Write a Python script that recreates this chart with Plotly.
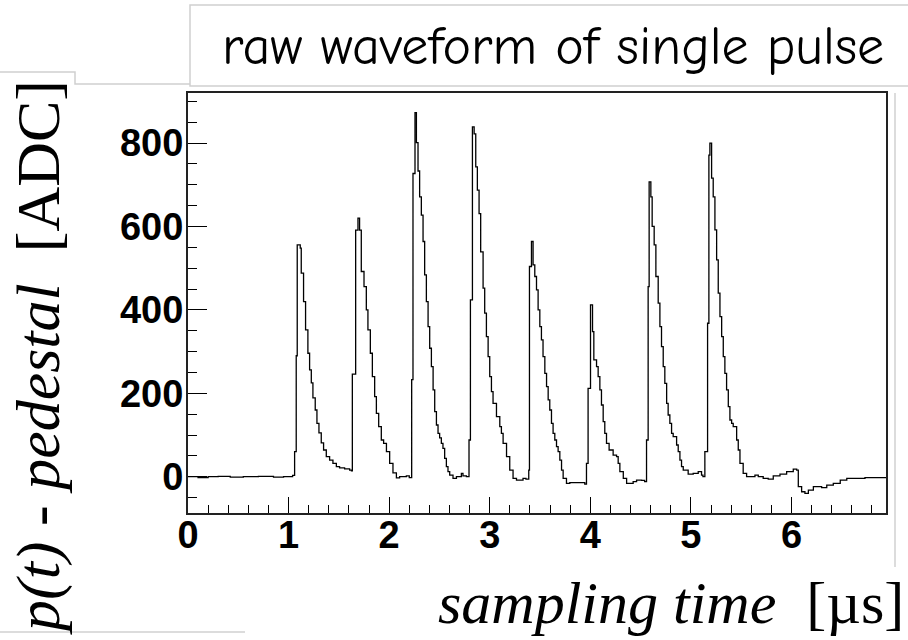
import plotly.graph_objects as go

# ---- data: waveform breakpoints (time in µs, amplitude in ADC counts), drawn as steps ----
base_t = [0.00, 0.10, 0.20, 0.30, 0.42, 0.55, 0.70, 0.85, 0.95, 1.04]
base_v = [0, -2, 0, 1, -1, 0, 1, -1, 0, 3]

p1_t = [1.060, 1.076, 1.086, 1.116, 1.126, 1.149, 1.169, 1.192, 1.209, 1.226, 1.242, 1.265,
        1.282, 1.302, 1.325, 1.348, 1.375, 1.408, 1.441, 1.475, 1.507, 1.557, 1.607, 1.625]
p1_v = [60, 290, 556, 548, 488, 420, 352, 296, 256, 225, 189, 160,
        128, 105, 81, 64, 48, 40, 32, 24, 21, 19, 16, 14]

p2_t = [1.634, 1.667, 1.690, 1.706, 1.723, 1.750, 1.773, 1.789, 1.813, 1.833, 1.856, 1.873,
        1.896, 1.922, 1.945, 1.973, 2.005, 2.038, 2.072, 2.104, 2.171, 2.200]
p2_v = [246, 591, 620, 591, 492, 456, 400, 352, 296, 240, 192, 152,
        120, 88, 80, 60, 32, 9, -3, 0, 2, -2]

p3_t = [2.224, 2.237, 2.257, 2.271, 2.287, 2.303, 2.320, 2.337, 2.353, 2.370, 2.387, 2.403,
        2.420, 2.437, 2.453, 2.470, 2.486, 2.502, 2.519, 2.535, 2.552, 2.569, 2.585, 2.602,
        2.635, 2.669, 2.718, 2.734, 2.768]
p3_v = [233, 727, 873, 801, 733, 671, 627, 564, 484, 420, 360, 308,
        264, 208, 156, 124, 104, 93, 80, 68, 44, 24, 12, 4,
        -4, 0, 8, 2, 0]

p4_t = [2.794, 2.808, 2.828, 2.845, 2.861, 2.877, 2.894, 2.910, 2.934, 2.950, 2.967, 2.984,
        3.000, 3.017, 3.033, 3.067, 3.100, 3.116, 3.133, 3.167, 3.199, 3.232, 3.266, 3.331, 3.360]
p4_v = [88, 424, 839, 822, 743, 687, 631, 539, 452, 392, 336, 288,
        240, 204, 176, 144, 120, 104, 80, 48, 16, -4, -8, -4, -6]

p5_t = [3.388, 3.395, 3.415, 3.431, 3.448, 3.465, 3.481, 3.498, 3.514, 3.530, 3.548, 3.565,
        3.581, 3.597, 3.614, 3.630, 3.647, 3.664, 3.680, 3.697, 3.714, 3.730, 3.763, 3.796,
        3.863, 3.945]
p5_v = [16, 504, 564, 508, 480, 448, 400, 360, 328, 288, 248, 216,
        184, 160, 128, 104, 88, 72, 60, 40, 16, -4, -16, -14,
        -14, -18]

p6_t = [3.962, 3.978, 4.002, 4.022, 4.035, 4.062, 4.078, 4.095, 4.111, 4.128, 4.144, 4.161,
        4.187, 4.227, 4.261, 4.277, 4.294, 4.328, 4.361, 4.426, 4.460, 4.510, 4.540]
p6_v = [32, 212, 412, 348, 280, 264, 240, 208, 172, 132, 104, 80,
        64, 52, 48, 32, 12, -4, -16, -12, -8, -9, -12]

p7_t = [4.559, 4.575, 4.585, 4.602, 4.615, 4.635, 4.652, 4.675, 4.692, 4.708, 4.725, 4.741,
        4.759, 4.774, 4.791, 4.808, 4.824, 4.858, 4.874, 4.891, 4.907, 4.924, 4.973, 5.023,
        5.073, 5.106, 5.120]
p7_v = [88, 456, 707, 671, 600, 556, 480, 416, 360, 312, 264, 224,
        176, 148, 128, 104, 96, 76, 60, 40, 24, 16, 6, 8,
        12, 4, 0]

p8_t = [5.139, 5.166, 5.179, 5.189, 5.206, 5.222, 5.239, 5.256, 5.272, 5.289, 5.306, 5.322,
        5.338, 5.355, 5.372, 5.388, 5.405, 5.421, 5.455, 5.471, 5.488, 5.520, 5.554, 5.637,
        5.670, 5.719, 5.769, 5.819, 5.886, 5.952, 6.018, 6.052, 6.068, 6.101, 6.134, 6.168,
        6.218, 6.300, 6.351, 6.416, 6.485, 6.550, 6.649, 6.731, 6.940]
p8_v = [60, 368, 771, 800, 716, 671, 592, 520, 440, 384, 336, 288,
        248, 208, 168, 136, 128, 120, 88, 64, 32, 8, 0, 4,
        0, -4, -6, 2, 6, 12, 18, 16, -24, -36, -40, -32,
        -24, -26, -20, -16, -8, -4, -4, -2, -2]

x_ticks = [0, 1, 2, 3, 4, 5, 6]
y_ticks = [0, 200, 400, 600, 800]

t_all = base_t + p1_t + p2_t + p3_t + p4_t + p5_t + p6_t + p7_t + p8_t
v_all = base_v + p1_v + p2_v + p3_v + p4_v + p5_v + p6_v + p7_v + p8_v

# ---- layout geometry (pixels) ----
W, H = 908, 640
L, R, T, B = 188, 886, 93, 513


def px(x):
    return (x - L) / (R - L)


def py(y):
    return (B - y) / (B - T)


fig = go.Figure()
fig.add_trace(go.Scatter(x=t_all, y=v_all, mode="lines", line=dict(color="black", width=1.3, shape="hv"),
                         hoverinfo="skip", showlegend=False))

tickfont = dict(family="Liberation Sans, Arial, sans-serif", size=38, color="black", weight="bold")

fig.update_layout(
    width=W, height=H, autosize=False,
    margin=dict(l=L, r=W - R, t=T, b=H - B, pad=0),
    paper_bgcolor="white", plot_bgcolor="white",
    xaxis=dict(range=[0, 6.94], tickvals=x_ticks, ticktext=[str(v) for v in x_ticks],
               ticks="inside", ticklen=16, tickwidth=1.2, tickcolor="black",
               minor=dict(dtick=0.2, tick0=0, ticks="inside", ticklen=8, tickwidth=1.2, tickcolor="black", showgrid=False),
               showline=True, linecolor="#222", linewidth=2, mirror=True,
               showgrid=False, zeroline=False, tickfont=tickfont, ticklabelstandoff=-13),
    yaxis=dict(range=[-87, 920], tickvals=y_ticks, ticktext=[str(v) for v in y_ticks],
               ticks="inside", ticklen=19, tickwidth=1.2, tickcolor="black",
               minor=dict(dtick=50, tick0=0, ticks="inside", ticklen=9, tickwidth=1.2, tickcolor="black", showgrid=False),
               showline=True, linecolor="#222", linewidth=2, mirror=True,
               showgrid=False, zeroline=False, tickfont=tickfont, ticklabelstandoff=-5),
)

faint = dict(color="#d0d0d0", width=1.5)
fig.add_shape(type="rect", xref="paper", yref="paper",
              x0=px(190), x1=px(920), y0=py(86), y1=py(5), line=faint, fillcolor="white", layer="below")
fig.add_shape(type="path", xref="paper", yref="paper",
              path=f"M {px(0)},{py(72)} L {px(75)},{py(72)} L {px(75)},{py(84)} L {px(190)},{py(84)}",
              line=faint)
fig.add_shape(type="line", xref="paper", yref="paper",
              x0=px(0), x1=px(245), y0=py(632), y1=py(632), line=faint)
fig.add_shape(type="line", xref="paper", yref="paper",
              x0=px(895), x1=px(895), y0=py(93), y1=py(567), line=faint)

fig.add_annotation(text="raw waveform of single pulse", xref="paper", yref="paper",
                   x=px(553), y=py(47), xanchor="center", yanchor="middle", showarrow=False,
                   font=dict(family="Comic Sans MS, Comic Neue, Lato, sans-serif", size=54, color="black"))
fig.add_annotation(text="<i>p(t) - pedestal</i>  [ADC]", xref="paper", yref="paper",
                   x=px(38), y=py(358), xanchor="center", yanchor="middle", textangle=-90, showarrow=False,
                   font=dict(family="Liberation Serif, Times New Roman, serif", size=62, color="black"))
fig.add_annotation(text="<i>sampling time</i>  [µs]", xref="paper", yref="paper",
                   x=px(906), y=py(603), xanchor="right", yanchor="middle", showarrow=False,
                   font=dict(family="Liberation Serif, Times New Roman, serif", size=60, color="black"))

fig.write_html("out.html", config={"displayModeBar": False},
               post_script="document.body.style.margin='0';document.body.style.padding='0';")
